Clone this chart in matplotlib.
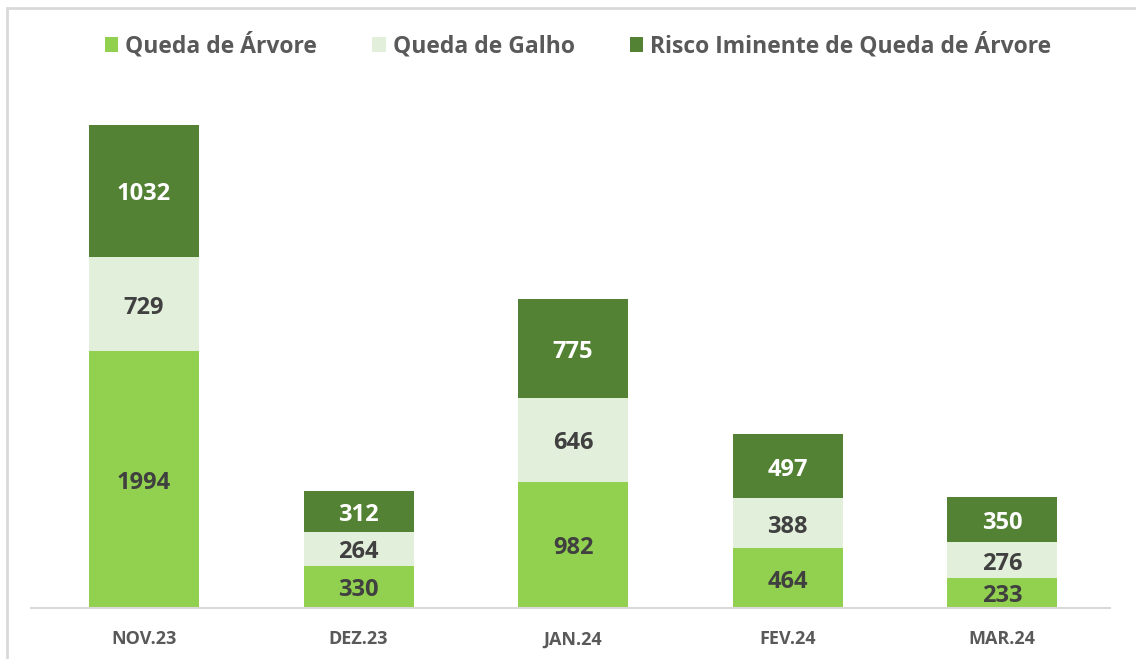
import matplotlib.pyplot as plt
from matplotlib.patches import Rectangle

meses = ['NOV.23', 'DEZ.23', 'JAN.24', 'FEV.24', 'MAR.24']
queda_arvore = [1994, 330, 982, 464, 233]
queda_galho = [729, 264, 646, 388, 276]
risco_iminente = [1032, 312, 775, 497, 350]

nomes = ['Queda de Árvore', 'Queda de Galho', 'Risco Iminente de Queda de Árvore']
cores = ['#92D050', '#E2EFDA', '#548235']
cores_texto = ['#404040', '#404040', 'white']

plt.rcParams['font.family'] = ['Open Sans', 'DejaVu Sans']

fig = plt.figure(figsize=(11.36, 6.59), dpi=100)
W, H = 1136, 659
# moldura cinza clara
fig.patches.append(Rectangle((7 / W, -0.05), 1.1, 1 - 8 / H + 0.05, transform=fig.transFigure,
                             fill=False, edgecolor='#D9D9D9', linewidth=2))

ax = fig.add_axes([31 / W, 51 / H, 1079 / W, 515 / H])

x = range(len(meses))
base = [0] * len(meses)
for serie, nome, cor, ct in zip([queda_arvore, queda_galho, risco_iminente], nomes, cores, cores_texto):
    bars = ax.bar(x, serie, width=0.513, bottom=base, color=cor, label=nome)
    anns = ax.bar_label(bars, labels=[str(v) for v in serie], label_type='center',
                        color=ct, fontsize=17, fontweight='bold')
    for a in anns:
        a.set_position((0, -2.5))
    base = [b + v for b, v in zip(base, serie)]

ax.set_xlim(-0.527, 4.503)
ax.set_ylim(0, 4000)
ax.set_xticks(list(x))
ax.set_xticklabels(meses, fontsize=13, fontweight='bold', color='#595959')
ax.tick_params(axis='x', length=0, pad=16)
ax.set_yticks([])
for s in ['top', 'right', 'left']:
    ax.spines[s].set_visible(False)
ax.spines['bottom'].set_color('#D9D9D9')
ax.spines['bottom'].set_linewidth(1.5)

leg = fig.legend(loc='center', bbox_to_anchor=(578 / W, 1 - 46 / H), ncol=3, frameon=False,
                 prop={'size': 16.5, 'weight': 'bold'}, handlelength=0.6, handleheight=0.6,
                 handletextpad=0.3, columnspacing=2.4)
for t in leg.get_texts():
    t.set_color('#595959')

fig.savefig('out.png', dpi=100)
